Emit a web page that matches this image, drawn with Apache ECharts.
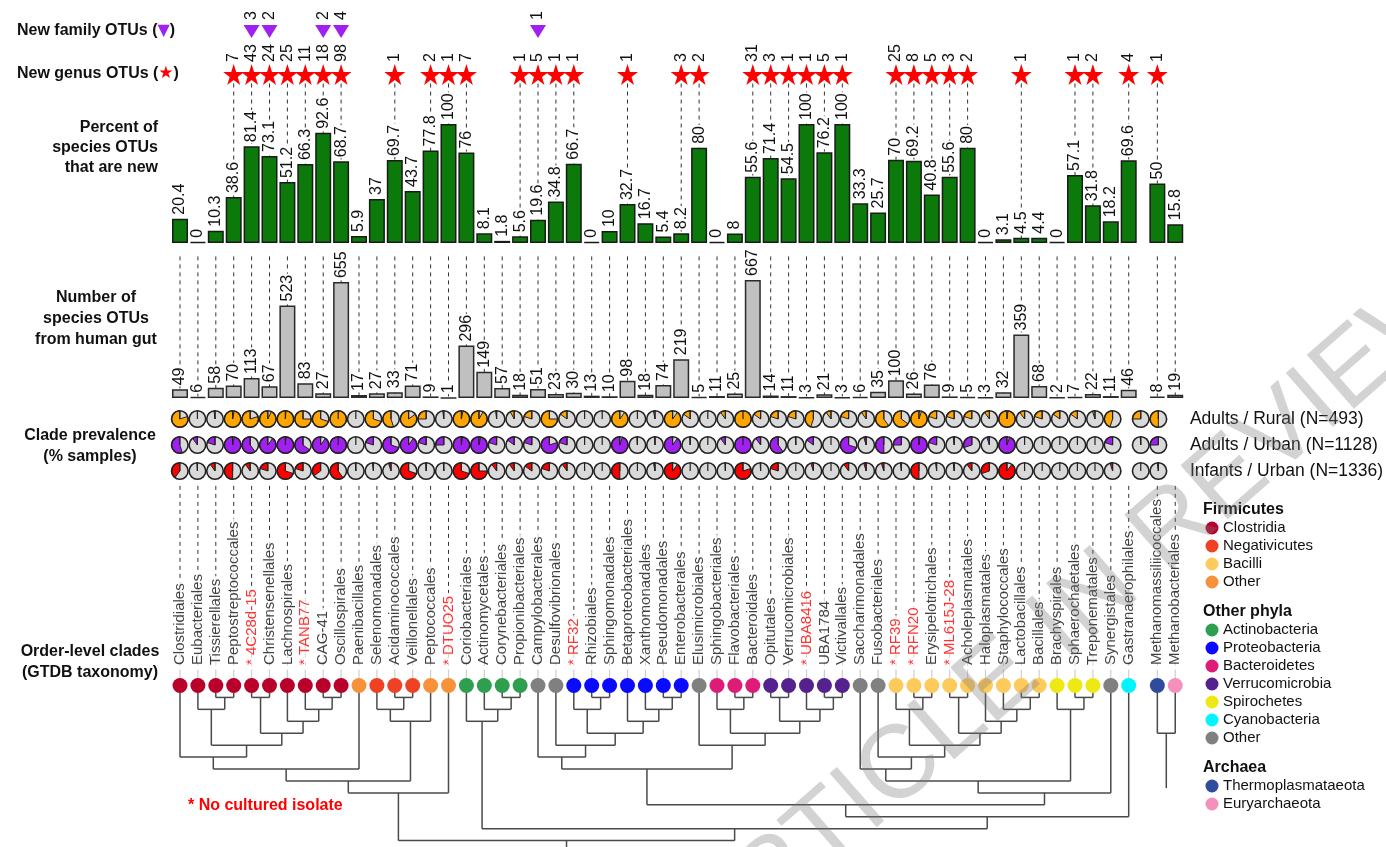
<!DOCTYPE html>
<html>
<head>
<meta charset="utf-8">
<script src="https://cdn.jsdelivr.net/npm/echarts@6/dist/echarts.min.js"></script>
<style>
    html, body { margin: 0; padding: 0; background: #fff; }
    #chart { width: 1386px; height: 847px; }
</style>
</head>
<body>
<div id="chart"></div>
<script>
// order-level clades, left to right (leading "* " = no cultured isolate)
const clades = [
    'Clostridiales', 'Eubacteriales', 'Tissierellales', 'Peptostreptococcales', '* 4C28d-15',
    'Christensenellales', 'Lachnospirales', '* TANB77', 'CAG-41', 'Oscillospirales',
    'Paenibacillales', 'Selenomonadales', 'Acidaminococcales', 'Veillonellales', 'Peptococcales',
    '* DTUO25', 'Coriobacteriales', 'Actinomycetales', 'Corynebacteriales', 'Propionibacteriales',
    'Campylobacterales', 'Desulfovibrionales', '* RF32', 'Rhizobiales', 'Sphingomonadales',
    'Betaproteobacteriales', 'Xanthomonadales', 'Pseudomonadales', 'Enterobacterales', 'Elusimicrobiales',
    'Sphingobacteriales', 'Flavobacteriales', 'Bacteroidales', 'Opitutales', 'Verrucomicrobiales',
    '* UBA8416', 'UBA1784', 'Victivallales', 'Saccharimonadales', 'Fusobacteriales',
    '* RF39', '* RFN20', 'Erysipelotrichales', '* ML615J-28', 'Acholeplasmatales',
    'Haloplasmatales', 'Staphylococcales', 'Lactobacillales', 'Bacillales', 'Brachyspirales',
    'Sphaerochaetales', 'Treponematales', 'Synergistales', 'Gastranaerophilales',
    'Methanomassiliicoccales', 'Methanobacteriales'
];

const groups = [
    'Clostridia', 'Clostridia', 'Clostridia', 'Clostridia', 'Clostridia',
    'Clostridia', 'Clostridia', 'Clostridia', 'Clostridia', 'Clostridia',
    'FOther', 'Negativicutes', 'Negativicutes', 'Negativicutes', 'FOther',
    'FOther', 'Actinobacteria', 'Actinobacteria', 'Actinobacteria', 'Actinobacteria',
    'Other', 'Other', 'Proteobacteria', 'Proteobacteria', 'Proteobacteria',
    'Proteobacteria', 'Proteobacteria', 'Proteobacteria', 'Proteobacteria', 'Other',
    'Bacteroidetes', 'Bacteroidetes', 'Bacteroidetes', 'Verrucomicrobia', 'Verrucomicrobia',
    'Verrucomicrobia', 'Verrucomicrobia', 'Verrucomicrobia', 'Other', 'Other',
    'Bacilli', 'Bacilli', 'Bacilli', 'Bacilli', 'Bacilli',
    'Bacilli', 'Bacilli', 'Bacilli', 'Bacilli', 'Spirochetes',
    'Spirochetes', 'Spirochetes', 'Other', 'Cyanobacteria',
    'Thermoplasmataeota', 'Euryarchaeota'
];

const newFamily = [
    null, null, null, null, 3, 2, null, null, 2, 4,
    null, null, null, null, null, null, null, null, null, null,
    1, null, null, null, null, null, null, null, null, null,
    null, null, null, null, null, null, null, null, null, null,
    null, null, null, null, null, null, null, null, null, null,
    null, null, null, null, null, null
];

const newGenus = [
    null, null, null, 7, 43, 24, 25, 11, 18, 98,
    null, null, 1, null, 2, 1, 7, null, null, 1,
    5, 1, 1, null, null, 1, null, null, 3, 2,
    null, null, 31, 3, 1, 1, 5, 1, null, null,
    25, 8, 5, 3, 2, null, null, 1, null, null,
    1, 2, null, 4, 1, null
];

const pctNew = [
    20.4, 0, 10.3, 38.6, 81.4, 73.1, 51.2, 66.3, 92.6, 68.7,
    5.9, 37, 69.7, 43.7, 77.8, 100, 76, 8.1, 1.8, 5.6,
    19.6, 34.8, 66.7, 0, 10, 32.7, 16.7, 5.4, 8.2, 80,
    0, 8, 55.6, 71.4, 54.5, 100, 76.2, 100, 33.3, 25.7,
    70, 69.2, 40.8, 55.6, 80, 0, 3.1, 4.5, 4.4, 0,
    57.1, 31.8, 18.2, 69.6, 50, 15.8
];

const gutCount = [
    49, 6, 58, 70, 113, 67, 523, 83, 27, 655,
    17, 27, 33, 71, 9, 1, 296, 149, 57, 18,
    51, 23, 30, 13, 10, 98, 18, 74, 219, 5,
    11, 25, 667, 14, 11, 3, 21, 3, 6, 35,
    100, 26, 76, 9, 5, 3, 32, 359, 68, 2,
    7, 22, 11, 46, 8, 19
];

// clade prevalence (fraction of samples)
const prevRural = [
    0.8, 0, 0.02, 0.97, 0.8, 0.93, 0.99, 0.75, 0.7, 1,
    0, 0.7, 0.55, 0.85, 0.25, 0.02, 0.97, 0.92, 0.02, 0.08,
    0.2, 0.75, 0.15, 0, 0, 0.9, 0, 0.03, 0.9, 0.15,
    0, 0.1, 1, 0.15, 0.2, 0.2, 0.45, 0.1, 0.2, 0.1,
    0.6, 0.65, 0.95, 0.2, 0.2, 0.2, 0.1, 0.98, 0.1, 0.2,
    0.15, 0.15, 0.05, 0.45, 0.25, 0.5
];
const prevUrban = [
    0.55, 0.1, 0.2, 0.97, 0.6, 0.9, 0.99, 0.65, 0.9, 1,
    0, 0.2, 0.7, 0.9, 0.2, 0.25, 0.98, 0.97, 0.2, 0.15,
    0.2, 0.8, 0.2, 0, 0, 0.95, 0.01, 0.01, 0.9, 0.01,
    0, 0.1, 1, 0.1, 0.6, 0.01, 0.15, 0, 0.7, 0.05,
    0.5, 0.25, 0.98, 0.2, 0.02, 0.3, 0.05, 0.95, 0, 0,
    0, 0, 0, 0.2, 0.01, 0.25
];
const prevInfant = [
    0.4, 0.01, 0.1, 0.5, 0.1, 0.2, 0.7, 0.2, 0.35, 0.6,
    0.01, 0.02, 0.05, 0.7, 0.01, 0.01, 0.7, 0.75, 0.1, 0.1,
    0.15, 0.2, 0.1, 0, 0, 0.5, 0, 0.03, 0.9, 0,
    0, 0.01, 0.8, 0.01, 0.2, 0, 0.05, 0, 0.1, 0.05,
    0.05, 0.02, 0.5, 0.02, 0.02, 0.1, 0.3, 0.9, 0, 0,
    0, 0, 0, 0.05, 0, 0.02
];
const cohorts = ['Adults / Rural (N=493)', 'Adults / Urban (N=1128)', 'Infants / Urban (N=1336)'];

// dendrogram: leaves are clade indices, nodes are [level, left, right]
const firmicutesTree = [9, [8, [7, [6, 0, [5, [2, 1, [1, 2, 3]], [4, [1, 4, 5], [3, 6, [2, 7, [1, 8, 9]]]]]], 10],
    [3, [2, 11, [1, 12, 13]], 14]], 15];
const actinoTree = [3, 16, [2, 17, [1, 18, 19]]];
const proteoTree = [6, 20, [5, 21, [4, [2, 22, [1, 23, 24]], [3, 25, [2, 26, [1, 27, 28]]]]]];
const bactVerrTree = [5, 29, [4, [2, 30, [1, 31, 32]], [3, [1, 33, 34], [2, 35, [1, 36, 37]]]]];
const bacilliTree = [9, [8, [7, 38, [6, 39, [5, [2, 40, [1, 41, 42]], [4, [1, 43, 44], [3, 45, [2, 46, [1, 47, 48]]]]]]],
    [2, 49, [1, 50, 51]]], 52];
const bacteriaTree = [13, firmicutesTree, [12, actinoTree, [11, [10, [7, proteoTree, bactVerrTree], bacilliTree], 53]]];
const archaeaTree = [4, 54, 55];

const groupColors = {
    Clostridia: '#b8002b', Negativicutes: '#ef4123', Bacilli: '#fdca5c', FOther: '#f7923a',
    Actinobacteria: '#2e9f4f', Proteobacteria: '#0a0aff', Bacteroidetes: '#df1b78',
    Verrucomicrobia: '#55218f', Spirochetes: '#eee815', Cyanobacteria: '#00f5ff', Other: '#808080',
    Thermoplasmataeota: '#2f4b9c', Euryarchaeota: '#f590bd'
};
const legendBlocks = [
    ['Firmicutes', [['Clostridia', 'Clostridia'], ['Negativicutes', 'Negativicutes'], ['Bacilli', 'Bacilli'], ['Other', 'FOther']]],
    ['Other phyla', [['Actinobacteria', 'Actinobacteria'], ['Proteobacteria', 'Proteobacteria'], ['Bacteroidetes', 'Bacteroidetes'],
        ['Verrucomicrobia', 'Verrucomicrobia'], ['Spirochetes', 'Spirochetes'], ['Cyanobacteria', 'Cyanobacteria'], ['Other', 'Other']]],
    ['Archaea', [['Thermoplasmataeota', 'Thermoplasmataeota'], ['Euryarchaeota', 'Euryarchaeota']]]
];

// ---- layout ----
const FONT = '"Liberation Sans", Arial, Helvetica, sans-serif';
const X0 = 180, UNIT = 17.9, X_MIN = -0.6, X_MAX = 56.2, ARCHAEA_GAP = 0.6;
const GL = X0 + X_MIN * UNIT, GW = (X_MAX - X_MIN) * UNIT;
const xPos = clades.map((_, i) => i < 54 ? i : i + ARCHAEA_GAP);
const pieColors = ['#ffa500', '#a020f0', '#ff0000'];

const gridDefs = [
    { top: 10, height: 86 },       // 0 markers
    { top: 124, height: 119 },     // 1 percent new
    { top: 278, height: 120 },     // 2 human gut
    { top: 406, height: 78 },      // 3 prevalence
    { top: 484, height: 184 },     // 4 clade names
    { top: 685.5, height: 155.1 }  // 5 tree
];

const chart = echarts.init(document.getElementById('chart'));

const dashedLine = (from, to) => (params, api) => {
    const a = api.coord([api.value(0), from]);
    const b = api.coord([api.value(0), to]);
    return {
        type: 'line',
        shape: { x1: a[0], y1: a[1], x2: b[0], y2: b[1] },
        style: { stroke: '#333', lineWidth: 1, lineDash: [4, 4] }
    };
};

const rotLabel = (extra) => Object.assign({
    show: true,
    rotate: 90,
    align: 'left',
    verticalAlign: 'middle',
    position: 'top',
    distance: 3,
    fontFamily: FONT,
    fontSize: 16,
    color: '#111',
    backgroundColor: '#fff',
    padding: [0, 1],
    lineHeight: 16
}, extra || {});

// tree -> segments
const treeSegments = [];
function layoutTree(node) {
    if (typeof node === 'number') return { x: xPos[node], y: 0 };
    const [lvl, l, r] = node;
    const a = layoutTree(l), b = layoutTree(r);
    treeSegments.push([a.x, a.y, a.x, lvl]);
    treeSegments.push([b.x, b.y, b.x, lvl]);
    treeSegments.push([a.x, lvl, b.x, lvl]);
    return { x: (a.x + b.x) / 2, y: lvl };
}
const rootB = layoutTree(bacteriaTree);
treeSegments.push([rootB.x, rootB.y, rootB.x, 14]);
const rootA = layoutTree(archaeaTree);
treeSegments.push([rootA.x, rootA.y, rootA.x, 8.6]);

const idx = clades.map((_, i) => i);
const pieData = [];
[prevRural, prevUrban, prevInfant].forEach((arr, row) => {
    arr.forEach((v, i) => pieData.push([xPos[i], row, v]));
});

const graphics = [];
const title = (text, x, y, align, extra) => graphics.push({
    type: 'text', x, y,
    style: Object.assign({ text, fontFamily: FONT, fontSize: 16, fontWeight: 'bold', fill: '#111',
        textAlign: align, textVerticalAlign: 'middle', lineHeight: 21 }, extra || {})
});
graphics.push({
    type: 'text', x: 17, y: 31,
    style: {
        text: 'New family OTUs ({t|▼})', fontFamily: FONT, fontSize: 16, fontWeight: 'bold', fill: '#111',
        textVerticalAlign: 'middle', rich: { t: { fill: '#a020f0', fontSize: 16, fontFamily: 'DejaVu Sans' } }
    }
});
graphics.push({
    type: 'text', x: 17, y: 74,
    style: {
        text: 'New genus OTUs ({s|★})', fontFamily: FONT, fontSize: 16, fontWeight: 'bold', fill: '#111',
        textVerticalAlign: 'middle', rich: { s: { fill: '#ff0000', fontSize: 17, fontFamily: 'DejaVu Sans' } }
    }
});
title('Percent of\nspecies OTUs\nthat are new', 158, 148, 'right', { lineHeight: 20 });
title('Number of\nspecies OTUs\nfrom human gut', 96, 319, 'center');
title('Clade prevalence\n(% samples)', 90, 446, 'center');
title('Order-level clades\n(GTDB taxonomy)', 90, 662, 'center');
title('* No cultured isolate', 188, 806, 'left', { fill: '#ff0000' });

let ly = 510;
legendBlocks.forEach(([head, items]) => {
    title(head, 1203, ly, 'left');
    ly += 18;
    items.forEach(([name, key]) => {
        graphics.push({ type: 'circle', shape: { cx: 1212, cy: ly, r: 6.5 }, style: { fill: groupColors[key] } });
        graphics.push({ type: 'text', x: 1223, y: ly,
            style: { text: name, fontFamily: FONT, fontSize: 15, fill: '#111', textVerticalAlign: 'middle' } });
        ly += 18;
    });
    ly += 12;
});

// review watermark
graphics.push({
    type: 'text', x: 1075, y: 615, rotation: 0.72, z: 100,
    style: {
        text: 'ARTICLE IN REVIEW', fontFamily: FONT, fontSize: 104, fill: 'rgba(120,120,120,0.33)',
        textAlign: 'center', textVerticalAlign: 'middle'
    }
});

const option = {
    animation: false,
    backgroundColor: '#fff',
    grid: gridDefs.map(g => ({ left: GL, width: GW, top: g.top, height: g.height })),
    xAxis: gridDefs.map((g, i) => ({ type: 'value', gridIndex: i, min: X_MIN, max: X_MAX, show: false })),
    yAxis: [
        { type: 'category', gridIndex: 0, data: ['family', 'genus'], inverse: true, show: false },
        { type: 'value', gridIndex: 1, min: 0, max: 100, show: false },
        { type: 'value', gridIndex: 2, min: 0, max: 678, show: false },
        {
            type: 'category', gridIndex: 3, data: cohorts, inverse: true, position: 'right',
            axisLine: { show: false }, axisTick: { show: false },
            axisLabel: { fontFamily: FONT, fontSize: 17.5, color: '#111', margin: 21 }
        },
        { type: 'value', gridIndex: 4, min: 0, max: 1, show: false },
        { type: 'value', gridIndex: 5, min: 0, max: 13, inverse: true, show: false }
    ],
    graphic: graphics,
    series: [
        {
            type: 'scatter', xAxisIndex: 0, yAxisIndex: 0,
            symbol: 'triangle', symbolRotate: 180, symbolSize: [16, 13],
            itemStyle: { color: '#a020f0', opacity: 1 },
            data: idx.filter(i => newFamily[i] != null).map(i => [xPos[i], 0, newFamily[i]]),
            label: rotLabel({ formatter: p => p.value[2], distance: 4, backgroundColor: 'transparent' })
        },
        {
            type: 'scatter', xAxisIndex: 0, yAxisIndex: 0,
            symbol: 'path://M50,0 L61.2,34.5 L97.6,34.5 L68.2,55.9 L79.4,90.5 L50,69.1 L20.6,90.5 L31.8,55.9 L2.4,34.5 L38.8,34.5 Z',
            symbolSize: 21,
            itemStyle: { color: '#ff0000', opacity: 1 },
            data: idx.filter(i => newGenus[i] != null).map(i => [xPos[i], 1, newGenus[i]]),
            label: rotLabel({ formatter: p => p.value[2], distance: 1, backgroundColor: 'transparent' })
        },
        {
            type: 'custom', xAxisIndex: 1, yAxisIndex: 1, z: 1,
            renderItem: dashedLine(134, 0),
            data: idx.filter(i => newGenus[i] != null).map(i => [xPos[i]])
        },
        {
            type: 'bar', xAxisIndex: 1, yAxisIndex: 1, z: 3, barWidth: 16, barMinHeight: 1,
            itemStyle: { color: '#0b7a0b', borderColor: '#1a1a1a', borderWidth: 1.5 },
            data: idx.map(i => [xPos[i], pctNew[i]]),
            label: rotLabel({ formatter: p => p.value[1] })
        },
        {
            type: 'custom', xAxisIndex: 2, yAxisIndex: 2, z: 1,
            renderItem: dashedLine(800, 0),
            data: idx.map(i => [xPos[i]])
        },
        {
            type: 'bar', xAxisIndex: 2, yAxisIndex: 2, z: 3, barWidth: 16,
            itemStyle: { color: '#c0c0c0', borderColor: '#2a2a2a', borderWidth: 1.5 },
            data: idx.map(i => [xPos[i], gutCount[i]]),
            label: rotLabel({ formatter: p => p.value[1] })
        },
        {
            type: 'custom', xAxisIndex: 3, yAxisIndex: 3, z: 3,
            data: pieData,
            renderItem: (params, api) => {
                const [cx, cy] = api.coord([api.value(0), api.value(1)]);
                const v = api.value(2);
                const r = 8.3;
                const start = -Math.PI / 2;
                const kids = [{ type: 'circle', shape: { cx, cy, r }, style: { fill: '#d9d9d9' } }];
                if (v > 0) {
                    kids.push({
                        type: 'sector',
                        shape: { cx, cy, r0: 0, r, startAngle: start - v * 2 * Math.PI, endAngle: start, clockwise: true },
                        style: { fill: pieColors[api.value(1)], stroke: '#222', lineWidth: 1 }
                    });
                }
                kids.push({ type: 'line', shape: { x1: cx, y1: cy, x2: cx, y2: cy - r }, style: { stroke: '#222', lineWidth: 1.2 } });
                kids.push({ type: 'circle', shape: { cx, cy, r }, style: { fill: 'none', stroke: '#222', lineWidth: 1.6 } });
                return { type: 'group', children: kids };
            }
        },
        {
            type: 'custom', xAxisIndex: 4, yAxisIndex: 4, z: 1,
            renderItem: dashedLine(0.99, 0),
            data: idx.map(i => [xPos[i]])
        },
        {
            type: 'scatter', xAxisIndex: 4, yAxisIndex: 4, z: 3, symbolSize: 0,
            data: idx.map(i => ({
                value: [xPos[i], 0],
                label: { color: clades[i].startsWith('*') ? '#ff0000' : '#111' }
            })),
            label: rotLabel({ formatter: p => clades[p.dataIndex], distance: 0, padding: [0, 3], fontSize: 15, lineHeight: 15 })
        },
        {
            type: 'custom', xAxisIndex: 5, yAxisIndex: 5, z: 1,
            data: idx.map(i => [xPos[i]]),
            renderItem: (params, api) => {
                const a = api.coord([api.value(0), -1.35]);
                const b = api.coord([api.value(0), 0]);
                return { type: 'line', shape: { x1: a[0], y1: a[1], x2: b[0], y2: b[1] }, style: { stroke: '#cfcfcf', lineWidth: 1.2 } };
            }
        },
        {
            type: 'custom', xAxisIndex: 5, yAxisIndex: 5, z: 2,
            data: treeSegments,
            renderItem: (params, api) => {
                const a = api.coord([api.value(0), api.value(1)]);
                const b = api.coord([api.value(2), api.value(3)]);
                return { type: 'line', shape: { x1: a[0], y1: a[1], x2: b[0], y2: b[1] }, style: { stroke: '#4a4a4a', lineWidth: 1.5 } };
            }
        },
        {
            type: 'scatter', xAxisIndex: 5, yAxisIndex: 5, z: 4, symbolSize: 15,
            data: idx.map(i => ({ value: [xPos[i], 0], itemStyle: { color: groupColors[groups[i]], opacity: 1 } }))
        }
    ]
};

chart.setOption(option);
</script>
</body>
</html>
